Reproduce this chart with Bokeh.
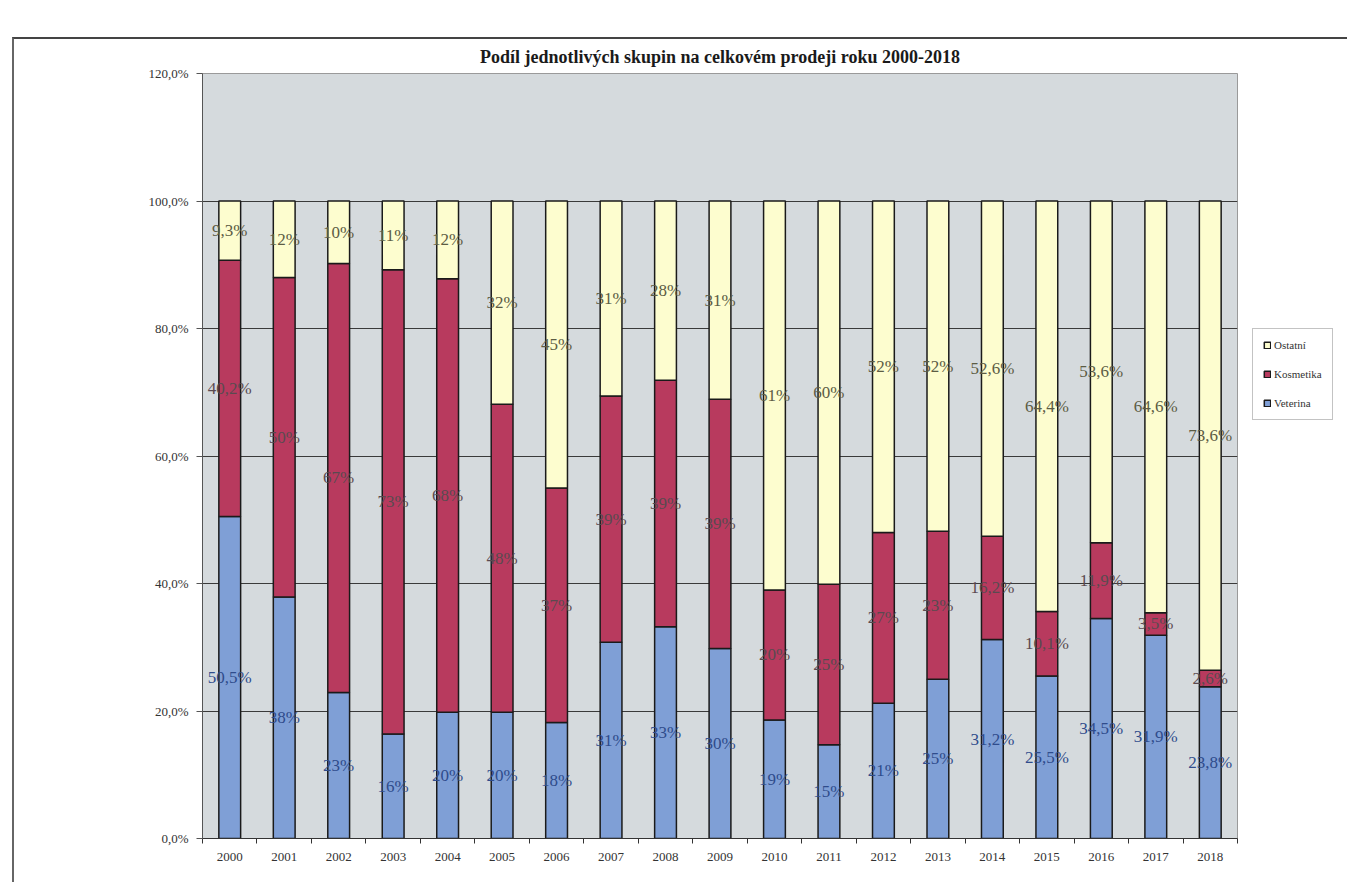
from bokeh.plotting import figure
from bokeh.models import (ColumnDataSource, FixedTicker, Range1d, Legend, LegendItem)
from bokeh.core.properties import value
from bokeh.embed import file_html
from bokeh.resources import INLINE

# Shares of each product group in total sales, per year (percent)
years = ["2000", "2001", "2002", "2003", "2004", "2005", "2006", "2007", "2008", "2009",
         "2010", "2011", "2012", "2013", "2014", "2015", "2016", "2017", "2018"]
veterina = [50.5, 37.9, 22.9, 16.4, 19.8, 19.8, 18.2, 30.8, 33.2, 29.8,
            18.6, 14.7, 21.2, 25.0, 31.2, 25.5, 34.5, 31.9, 23.8]
kosmetika = [40.2, 50.1, 67.3, 72.8, 68.0, 48.3, 36.8, 38.6, 38.7, 39.1,
             20.4, 25.2, 26.8, 23.2, 16.2, 10.1, 11.9, 3.5, 2.6]
ostatni = [9.3, 12.0, 9.8, 10.8, 12.2, 31.9, 45.0, 30.6, 28.1, 31.1,
           61.0, 60.1, 52.0, 51.8, 52.6, 64.4, 53.6, 64.6, 73.6]
# number of decimals shown in the data labels of each year
decimals = [1, 0, 0, 0, 0, 0, 0, 0, 0, 0, 0, 0, 0, 0, 1, 1, 1, 1, 1]
series_names = ["Veterina", "Kosmetika", "Ostatní"]
y_ticks = [0, 20, 40, 60, 80, 100, 120]

colors = ["#7f9fd6", "#b83a5e", "#fdfdcf"]
label_colors = ["#2f4c8c", "#5a4a50", "#5c5c44"]
SERIF = "Liberation Serif"

idx = list(range(len(years)))
source = ColumnDataSource(dict(x=idx, vet=veterina, kos=kosmetika, ost=ostatni))

p = figure(frame_width=1035, frame_height=765, output_backend="svg", toolbar_location=None,
           x_range=Range1d(-0.5, len(years) - 0.5), y_range=Range1d(0, 120),
           min_border_left=188, min_border_right=10, min_border_bottom=44,
           min_border_top=34, margin=(37, 0, 0, 12))
p.styles = {"border-top": "2px solid #444", "border-left": "2px solid #666"}

p.title.text = "Podíl jednotlivých skupin na celkovém prodeji roku 2000-2018"
p.title.align = "center"
p.title.vertical_align = "top"
p.title.text_font = SERIF
p.title.text_font_size = "18px"
p.title.text_font_style = "bold"
p.title.text_color = "#1a1a1a"

p.background_fill_color = "#d5dadd"
p.border_fill_color = "white"
p.outline_line_color = "#9a9a9a"
p.outline_line_width = 1

renderers = p.vbar_stack(["vet", "kos", "ost"], x="x", width=0.4, source=source,
                         fill_color=colors, line_color="#1a1a1a", line_width=1.5)

# data labels in the middle of every segment
lx, ly, lt, lc = [], [], [], []
for i in idx:
    base = 0.0
    for vals, col in zip((veterina, kosmetika, ostatni), label_colors):
        v = vals[i]
        lx.append(i)
        ly.append(base + v / 2)
        txt = f"{v:.{decimals[i]}f}".replace(".", ",") + "%"
        lt.append(txt)
        lc.append(col)
        base += v
p.text(x="x", y="y", text="t", text_color="c",
       source=ColumnDataSource(dict(x=lx, y=ly, t=lt, c=lc)),
       text_font=value(SERIF), text_font_size="17px",
       text_align="center", text_baseline="middle")

# axes
p.xgrid.visible = False
p.ygrid.ticker = FixedTicker(ticks=y_ticks)
p.ygrid.grid_line_color = "#3a3a3a"
p.ygrid.grid_line_width = 1
p.ygrid.level = "underlay"

p.yaxis.ticker = FixedTicker(ticks=y_ticks)
p.yaxis.major_label_overrides = {t: f"{t:.1f}".replace(".", ",") + "%" for t in y_ticks}
p.yaxis.major_label_text_font = SERIF
p.yaxis.major_label_text_font_size = "13px"
p.yaxis.major_label_text_color = "#333333"
p.yaxis.axis_line_color = "#555555"
p.yaxis.major_tick_line_color = "#555555"
p.yaxis.major_tick_out = 6
p.yaxis.major_tick_in = 0
p.yaxis.minor_tick_line_color = None
p.yaxis.major_label_standoff = 8

p.xaxis.ticker = FixedTicker(ticks=idx, minor_ticks=[i - 0.5 for i in range(len(years) + 1)])
p.xaxis.major_label_overrides = {i: y for i, y in enumerate(years)}
p.xaxis.major_label_text_font = SERIF
p.xaxis.major_label_text_font_size = "13px"
p.xaxis.major_label_text_color = "#333333"
p.xaxis.axis_line_color = "#333333"
p.xaxis.major_tick_out = 0
p.xaxis.major_tick_in = 0
p.xaxis.minor_tick_out = 5
p.xaxis.minor_tick_in = 0
p.xaxis.minor_tick_line_color = "#333333"
p.xaxis.major_label_standoff = 9

items = [LegendItem(label=name, renderers=[r]) for name, r in zip(series_names, renderers)]
legend = Legend(items=items[::-1], location=(15, 418))
legend.label_text_font = SERIF
legend.label_text_font_size = "11px"
legend.label_text_color = "#333333"
legend.glyph_width = 8
legend.glyph_height = 8
legend.label_height = 10
legend.spacing = 17
legend.padding = 10
legend.label_standoff = 3
legend.border_line_color = "#888888"
legend.background_fill_color = "white"
legend.margin = 0
p.add_layout(legend, "right")

open("out.html", "w").write(file_html(p, INLINE))
